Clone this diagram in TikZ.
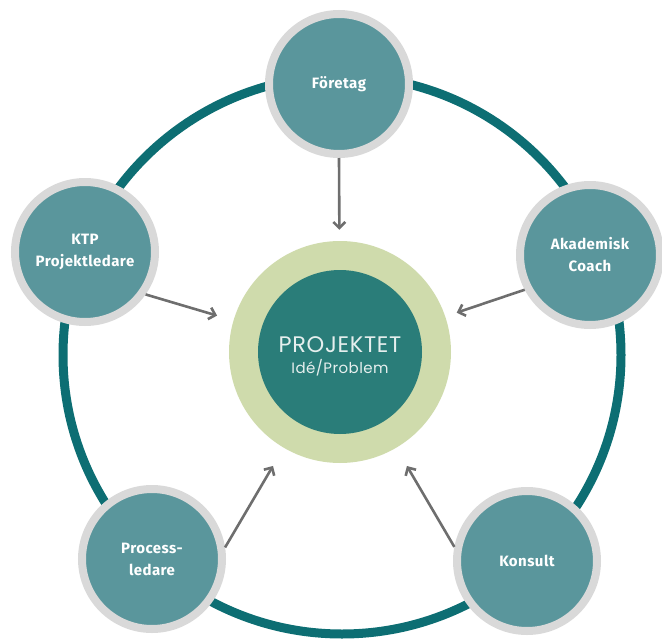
\documentclass[tikz,border=0pt]{standalone}
\usepackage{fontspec}
\setmainfont{Fira Sans}
\newfontfamily\satfont[LetterSpace=3]{Fira Sans}
\newfontfamily\cenfont[LetterSpace=3]{Poppins}
\usetikzlibrary{arrows.meta}
\definecolor{ringteal}{HTML}{0D6E73}
\definecolor{satteal}{HTML}{5A969C}
\definecolor{satgray}{HTML}{D9D9D9}
\definecolor{midteal}{HTML}{2A7D79}
\definecolor{paleg}{HTML}{CFDBAC}
\definecolor{arrowgray}{HTML}{6E6E6E}
\definecolor{txtlight}{HTML}{E6EFEE}
\tikzset{
  sat/.style={circle, fill=satteal, draw=satgray, line width=8pt, minimum size=140pt,
    inner sep=0pt, align=center, text=white, font=\satfont\bfseries\fontsize{15}{22}\selectfont},
  ringline/.style={draw=ringteal, line width=9pt},
  outerp/.style={circle, fill=paleg, minimum size=222pt, inner sep=0pt},
  innerp/.style={circle, fill=midteal, minimum size=164pt, inner sep=0pt},
  centext/.style={align=center, text=txtlight, font=\cenfont, inner sep=0pt}
}
\tikzset{arr/.style={draw=arrowgray, line width=2.6pt, -{Straight Barb[length=6pt,width=12pt,line width=2.6pt]}}}
\begin{document}
\begin{tikzpicture}[x=1pt,y=-1pt]
\useasboundingbox (0,0) rectangle (662,640);
\coordinate (rc) at (342,355);
\draw[ringline] (rc) circle (279);
\node[outerp] (p) at (340,352) {};
\node[innerp] (pi) at (p) {};
\node[centext] (pt) at (340,356) {{\fontsize{22.5}{23}\selectfont PROJEKTET}\\[6pt]{\fontsize{15}{16}\selectfont Idé/Problem}};
\node[sat] (f) at (339,84) {Företag};
\node[sat] (k) at (85,252) {KTP\\Projektledare};
\node[sat] (a) at (590,255) {Akademisk\\Coach};
\node[sat] (pr) at (152,559) {Process-\\ledare};
\node[sat] (ko) at (527,561) {Konsult};
\draw[arr, shorten >=11pt] (f.south) -- (p);
\draw[arr, shorten >=17pt] (k.-35) -- (p);
\draw[arr, shorten >=12pt] (a.-152) -- (p);
\draw[arr, shorten >=21pt] (pr.9) -- (p);
\draw[arr, shorten >=21pt] (ko.169) -- (p);
\end{tikzpicture}
\end{document}
